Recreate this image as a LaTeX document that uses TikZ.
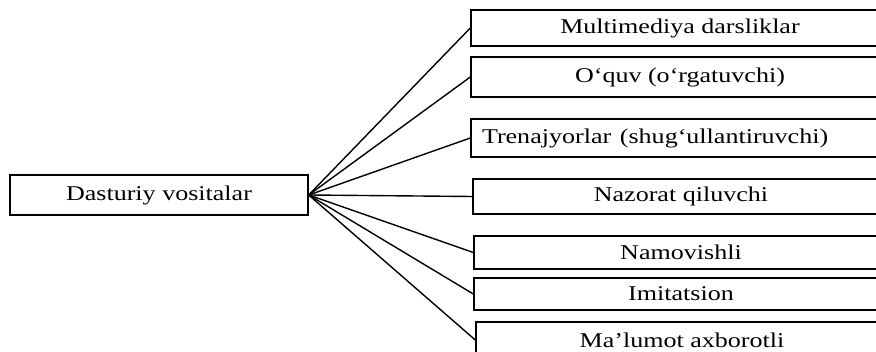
\documentclass[tikz,border=0pt]{standalone}
\usepackage{graphicx}
\usepackage{fontspec}
\setmainfont{Liberation Serif}
\newcommand\wtxt[1]{\scalebox{1.24}[1]{#1}}

\begin{document}
\begin{tikzpicture}[x=1pt,y=-1pt,line width=1.4pt,
  every node/.style={font=\fontsize{21}{25}\selectfont},
  box/.style={draw,rectangle,inner sep=0pt}]

	\useasboundingbox (0,0) rectangle (876,352);
	\clip (0,0) rectangle (876,352);

	\node[box,minimum width=298pt,minimum height=40pt] (src) at (159,195) {\wtxt{Dasturiy vositalar}};

	\node[box,minimum width=418pt,minimum height=36pt] (multi) at (680,28) {\wtxt{Multimediya darsliklar}};
	\node[box,minimum width=418pt,minimum height=40pt] (oquv) at (680,77) {\wtxt{O‘quv (o‘rgatuvchi)}};
	\node[box,inner xsep=11pt,text width=396pt,align=left,minimum height=38pt] (trenaj) at (680,138) {\wtxt{Trenajyorlar (shug‘ullantiruvchi)}};
	\node[box,minimum width=416pt,minimum height=35pt] (nazorat) at (681,196.5) {\wtxt{Nazorat qiluvchi}};
	\node[box,minimum width=414pt,minimum height=33pt] (namoy) at (681,252.5) {\wtxt{Namovishli}};
	\node[box,minimum width=414pt,minimum height=32pt] (imit) at (681,294) {\wtxt{Imitatsion}};
	\node[box,minimum width=412pt,minimum height=36pt] (malumot) at (682,340) {\wtxt{Ma’lumot axborotli}};

	\foreach \n in {multi,oquv,trenaj,nazorat,namoy,imit,malumot}
		\draw (src.east) -- (\n.west);
\end{tikzpicture}
\end{document}
